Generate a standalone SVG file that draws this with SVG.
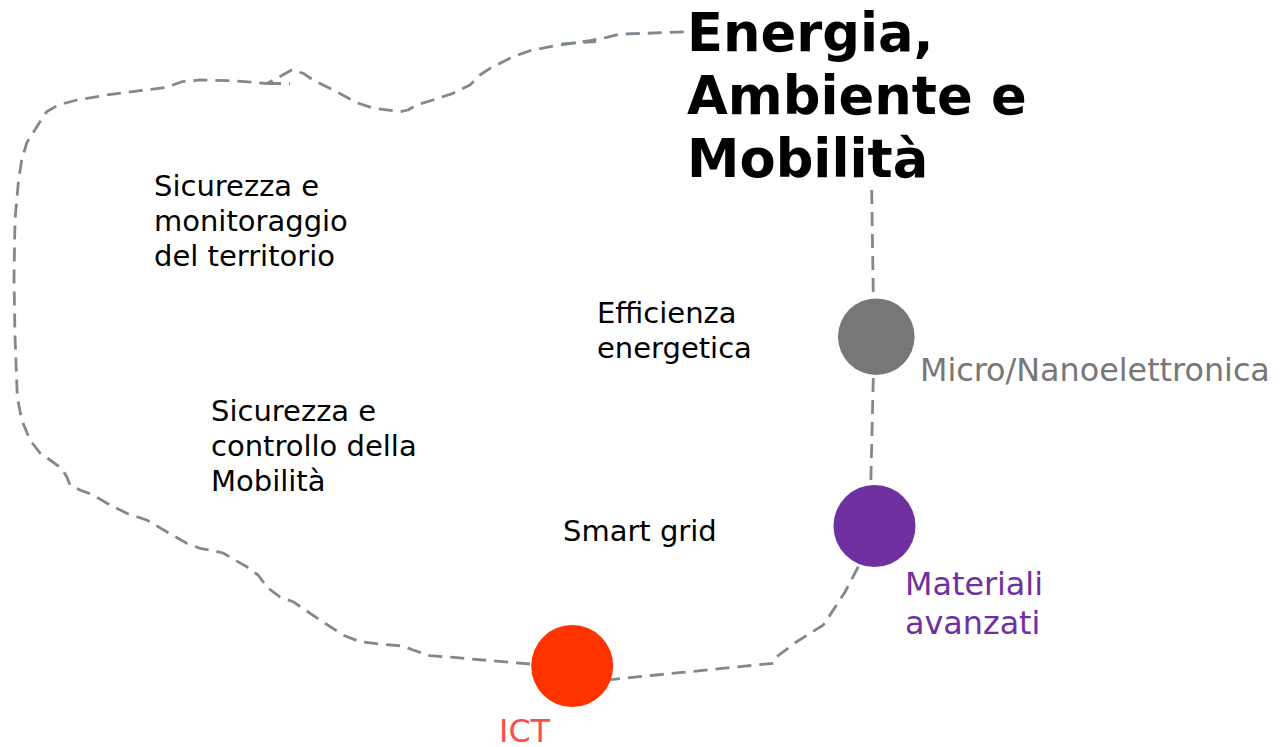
<svg xmlns="http://www.w3.org/2000/svg" width="1285" height="747" viewBox="0 0 1285 747">
<style>
.c{fill:none;stroke:#7f8990;stroke-width:2.8;stroke-dasharray:14 8;stroke-linejoin:round;stroke-linecap:butt}
.t{font-family:"DejaVu Sans","Verdana",sans-serif;font-size:29px;fill:#000}
.lbl{font-family:"DejaVu Sans","Verdana",sans-serif;font-size:31.8px}
.title{font-family:"DejaVu Sans","Verdana",sans-serif;font-size:52.7px;font-weight:bold;fill:#000}
</style>
<rect width="1285" height="747" fill="#fff"/>
<g id="connectors">
<path class="c" d="M871.7,190 L873.3,297"/>
<path class="c" d="M873.3,378 L870.7,486"/>
<path class="c" d="M858.3,566.7 L845,592 L833.3,610 L823.3,625 L796.7,641.7 L776.7,656.7 L773.3,663.3 L613.3,679.3 L600,680"/>
<path class="c" d="M530,664 L456.7,657.7 L430,655.7 L413,650 L403,646 L380,644 L360,641.7 L343,635 L320,620 L293,601.7 L280,597 L268,588 L258,575 L246.7,566.7 L223,553 L210,550 L200,548.3 L186.7,543.3 L166.7,531.7 L146.7,520 L126.7,513.3 L110,505 L93,495 L80,490 L70,485 L66.7,476.7 L61.7,468.3 L50,460 L40,453 L30,440 L21.7,420 L17.3,396.7 L15,336.7 L14,278 L15,220 L18.3,183 L21.7,160 L26.7,143 L31.7,135 L40,121.7 L46.7,111.7 L58.3,105 L76.7,100 L106.7,95 L140,90.7 L166.7,87.3 L181.7,81.7 L200,80 L233,80.7 L267,83.5 L291.7,70 L303.3,73.3 L313,80 L336.7,91.7 L348,98 L356.7,102.7 L373,108 L400,111.7 L408,110 L416.7,105 L433,100 L453,93.3 L470,85 L480,75 L490,68.3 L513,56.7 L530,50.7 L553,46 L590,40.7 L606.7,37.3 L620,34 L646.7,33.3 L686.7,31.7"/>
<path class="c" d="M267,83.5 L290,83.5"/>
<path class="c" d="M562,44 L596,41.5"/>
</g>
<g id="title"><text class="title"><tspan x="687" y="51">Energia,</tspan><tspan x="687" y="114">Ambiente e</tspan><tspan x="687" y="177">Mobilità</tspan></text></g>
<g id="sicurezza-territorio"><text class="t"><tspan x="154" y="196">Sicurezza e</tspan><tspan x="154" y="231">monitoraggio</tspan><tspan x="154" y="266">del territorio</tspan></text></g>
<g id="sicurezza-mobilita"><text class="t"><tspan x="211" y="421">Sicurezza e</tspan><tspan x="211" y="456">controllo della</tspan><tspan x="211" y="491">Mobilità</tspan></text></g>
<g id="efficienza"><text class="t"><tspan x="597" y="323">Efficienza</tspan><tspan x="597" y="358">energetica</tspan></text></g>
<g id="smartgrid"><text class="t" x="563" y="541">Smart grid</text></g>
<g id="micro"><circle cx="876.3" cy="336.7" r="38.3" fill="#777777"/><text class="lbl" x="920" y="381" fill="#777777">Micro/Nanoelettronica</text></g>
<g id="materiali"><circle cx="874.5" cy="526" r="41" fill="#7030a0"/><text class="lbl" fill="#7030a0"><tspan x="905" y="595">Materiali</tspan><tspan x="905" y="634">avanzati</tspan></text></g>
<g id="ict"><circle cx="572.2" cy="666" r="41" fill="#ff3300"/><text class="lbl" x="499" y="742" fill="#ff4b4b">ICT</text></g>
</svg>
